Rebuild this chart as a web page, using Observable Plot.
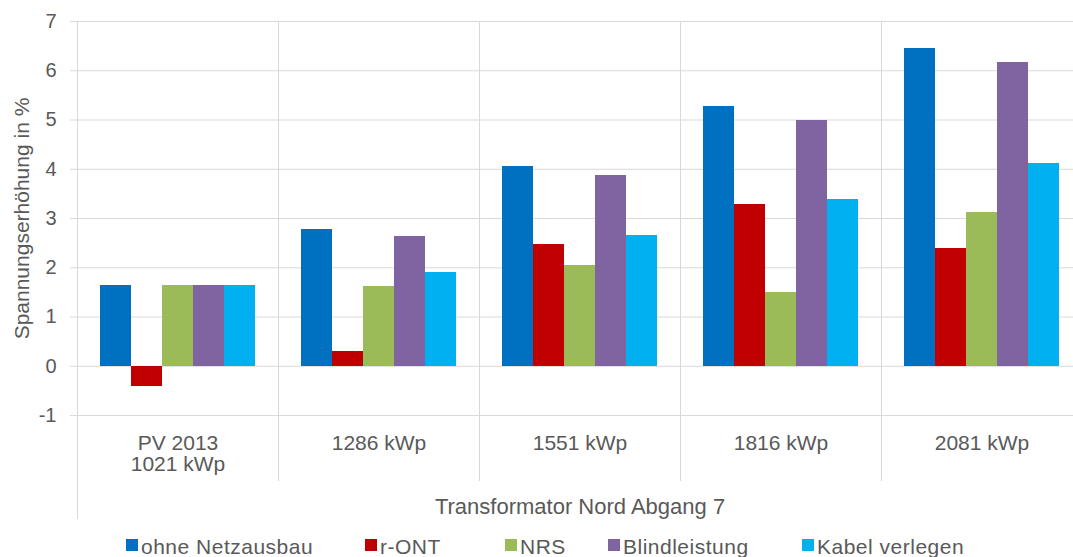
<!DOCTYPE html>
<html>
<head>
<meta charset="utf-8">
<script src="https://cdn.jsdelivr.net/npm/d3@7"></script>
<script src="https://cdn.jsdelivr.net/npm/@observablehq/plot@0.6"></script>
<style>
  html, body { margin: 0; padding: 0; background: #fff; overflow: hidden; width: 1073px; height: 557px; }
  #chart { position: relative; width: 1073px; height: 557px; overflow: hidden; font-family: "Liberation Sans", Arial, sans-serif; }
  #legend { position: absolute; left: 0; top: 536px; width: 1073px; height: 21px; }
</style>
</head>
<body>
<div id="chart"><div id="legend"></div></div>
<script>
// ---- data ----
const categories = ["PV 2013\n1021 kWp", "1286 kWp", "1551 kWp", "1816 kWp", "2081 kWp"];
const seriesNames = ["ohne Netzausbau", "r-ONT", "NRS", "Blindleistung", "Kabel verlegen"];
const seriesColors = ["#0070C0", "#C00000", "#9BBB59", "#8064A2", "#00B0F0"];
const valuesOhneNetzausbau = [1.64, 2.78, 4.06, 5.27, 6.46];
const valuesRONT           = [-0.42, 0.30, 2.47, 3.28, 2.39];
const valuesNRS            = [1.64, 1.62, 2.05, 1.49, 3.13];
const valuesBlindleistung  = [1.64, 2.64, 3.87, 5.00, 6.17];
const valuesKabelVerlegen  = [1.64, 1.91, 2.66, 3.39, 4.12];
const yTicks = [-1, 0, 1, 2, 3, 4, 5, 6, 7];
const xTitle = "Transformator Nord Abgang 7";
const yTitle = "Spannungserhöhung in %";

// ---- table ----
const seriesValues = [valuesOhneNetzausbau, valuesRONT, valuesNRS, valuesBlindleistung, valuesKabelVerlegen];
const rows = [];
seriesNames.forEach((s, j) => categories.forEach((c, i) => rows.push({category: c, series: s, value: seriesValues[j][i]})));

const grid = "#d9d9d9";
const ink = "#595959";
const font = "'Liberation Sans', Arial, sans-serif";

const plot = Plot.plot({
  width: 1090,
  height: 530,
  marginLeft: 76,
  marginRight: 7,
  marginTop: 21,
  marginBottom: 12,
  style: "max-width:none;overflow:hidden;font-family:" + font + ";background:#fff;",
  fx: {domain: categories, padding: 0, label: null, axis: null},
  x: {domain: seriesNames, paddingInner: 0, paddingOuter: 0.72, axis: null},
  y: {domain: [-3.09, 7], axis: null},
  color: {domain: seriesNames, range: seriesColors},
  marks: [
    Plot.gridY(yTicks, {stroke: grid, strokeOpacity: 1}),
    Plot.frame({anchor: "left", stroke: grid, strokeOpacity: 1, insetBottom: 38}),
    Plot.frame({anchor: "left", stroke: grid, strokeOpacity: 1, facetAnchor: "left"}),
    Plot.axisY(yTicks, {
      anchor: "left", tickSize: 7, tickPadding: 14, stroke: grid, strokeOpacity: 1,
      fill: ink, fontSize: 20, label: null, tickFormat: d => String(d)
    }),
    Plot.barY(rows, {fx: "category", x: "series", y: "value", fill: "series", shapeRendering: "crispEdges"}),
    Plot.axisFx({
      anchor: "bottom", tickSize: 0, tickPadding: -83, lineHeight: 1.0,
      fill: ink, fontSize: 21, label: null
    }),
    Plot.text([{t: yTitle, c: categories[0]}], {
      fx: "c", text: "t", y: () => 3, frameAnchor: "left", textAnchor: "middle", lineAnchor: "middle",
      rotate: -90, dx: -55, fill: ink, fontSize: 21
    }),
    Plot.text([{t: xTitle, c: categories[2]}], {
      fx: "c", text: "t", frameAnchor: "bottom", lineAnchor: "bottom", dy: -5,
      fill: ink, fontSize: 22
    })
  ]
});
const chart = document.getElementById("chart");
chart.insertBefore(plot, chart.firstChild);

// ---- legend ----
const legendLefts = [126, 365, 505, 608, 802];
const legend = Plot.legend({
  color: {domain: seriesNames, range: seriesColors},
  swatchSize: 12
});
const legendHost = document.getElementById("legend");
legendHost.appendChild(legend);
legend.style.position = "relative";
legend.style.margin = "0";
legend.style.height = "21px";
legend.style.fontFamily = font;
legend.style.fontSize = "21px";
legend.style.color = ink;
const swatches = legend.querySelectorAll(":scope > span");
swatches.forEach((sp, i) => {
  sp.style.position = "absolute";
  sp.style.left = legendLefts[i] + "px";
  sp.style.top = "0px";
  sp.style.display = "flex";
  sp.style.alignItems = "flex-start";
  sp.style.lineHeight = "21px";
  sp.style.fontSize = "21px";
  sp.style.letterSpacing = "0.5px";
  sp.style.margin = "0";
  sp.style.whiteSpace = "nowrap";
  const svg = sp.querySelector("svg");
  if (svg) {
    svg.style.marginTop = "3px";
    svg.style.marginRight = "3px";
  }
});
</script>
</body>
</html>
